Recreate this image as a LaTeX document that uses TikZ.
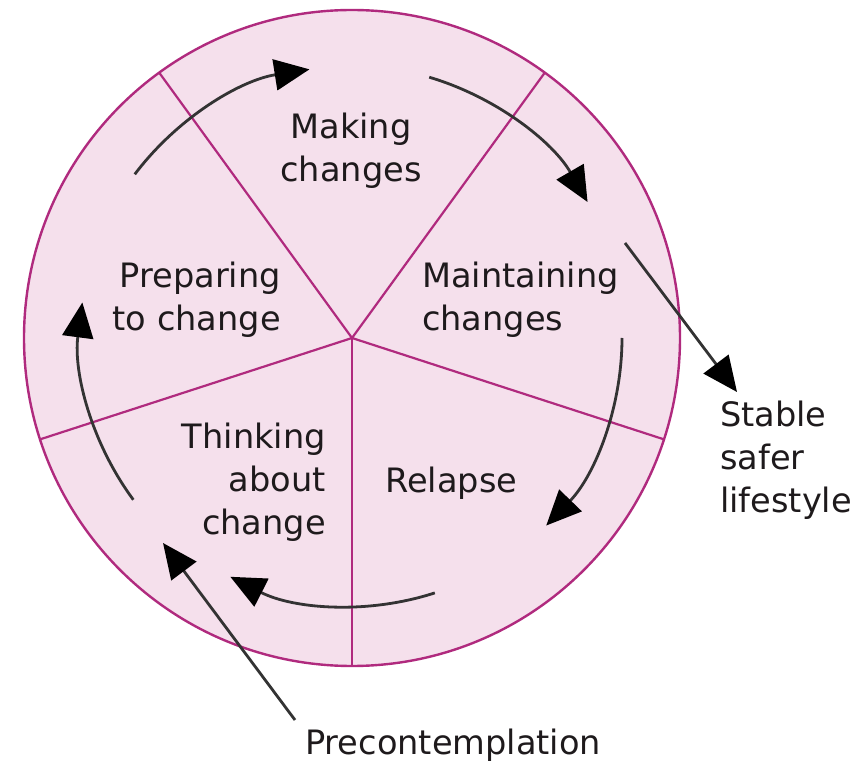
\documentclass[tikz,border=0pt]{standalone}
\usepackage{fontspec}
\setmainfont{DejaVu Sans}
\usetikzlibrary{arrows.meta,calc}
\definecolor{wheelfill}{HTML}{F5E0EC}
\definecolor{wheelline}{HTML}{B02A7E}
\definecolor{ink}{HTML}{1E1A1C}
\definecolor{arrowgray}{HTML}{333333}
\tikzset{
  rim/.style={draw=wheelline, line width=2.4pt},
  spoke/.style={draw=wheelline, line width=2.2pt},
  flow/.style={draw=arrowgray, line width=2.8pt,
    -{Triangle[length=35pt,width=31pt,fill=black,color=black]}},
  stage/.style={text=ink, font=\fontsize{33.6}{43}\selectfont, inner sep=0pt},
}
\begin{document}
\begin{tikzpicture}[x=1pt,y=1pt]
  \useasboundingbox (0,0) rectangle (868,764);
  \coordinate (c) at (352,426);

  % the wheel and its five sectors
  \fill[wheelfill] (c) circle[radius=328pt];
  \foreach \a/\n in {54/s1,126/s2,198/s3,270/s4,342/s5}{
    \coordinate (\n) at ($(c)+(\a:328pt)$);
    \draw[spoke] (c) -- (\n);
  }
  \draw[rim] (c) circle[radius=328pt];

  % stage labels
  \node[stage, align=center] (making) at (351,613) {Making\\changes};
  \node[stage, align=right, anchor=east] (preparing) at (281,464) {Preparing\\to change};
  \node[stage, align=left, anchor=west] (maintaining) at (422,464) {Maintaining\\changes};
  \node[stage, align=right, anchor=east] (thinking) at (326,282) {Thinking\\about\\change};
  \node[stage, anchor=west] (relapse) at (385,281) {Relapse};
  \node[stage, align=left, anchor=west] (stable) at (720,304) {Stable\\safer\\lifestyle};
  \node[stage, anchor=west] (pre) at (305,19) {Precontemplation};

  % cycle arrows running round the wheel
  \coordinate (a1) at ($(c)+(143:272pt)$);
  \coordinate (a2) at ($(c)+(73.5:272pt)$);
  \coordinate (a3) at ($(c)+(0:270pt)$);
  \coordinate (a4) at ($(c)+(-72:268pt)$);
  \coordinate (a5) at ($(c)+(216.5:272pt)$);
  \draw[flow] (a1) arc[start angle=143, end angle=99, radius=272pt];
  \draw[flow] (a2) arc[start angle=73.5, end angle=30, radius=272pt];
  \draw[flow] (a3) arc[start angle=0, end angle=-44, radius=270pt];
  \draw[flow] (a4) arc[start angle=-72, end angle=-117, radius=268pt];
  \draw[flow] (a5) arc[start angle=216.5, end angle=172.5, radius=272pt];

  % exits from and entries into the cycle
  \coordinate (outstart) at (625,521);
  \coordinate (outend) at (737,372);
  \draw[flow] (outstart) -- (outend);
  \coordinate (instart) at (295,44);
  \coordinate (inend) at (163,221);
  \draw[flow] (instart) -- (inend);
\end{tikzpicture}
\end{document}
